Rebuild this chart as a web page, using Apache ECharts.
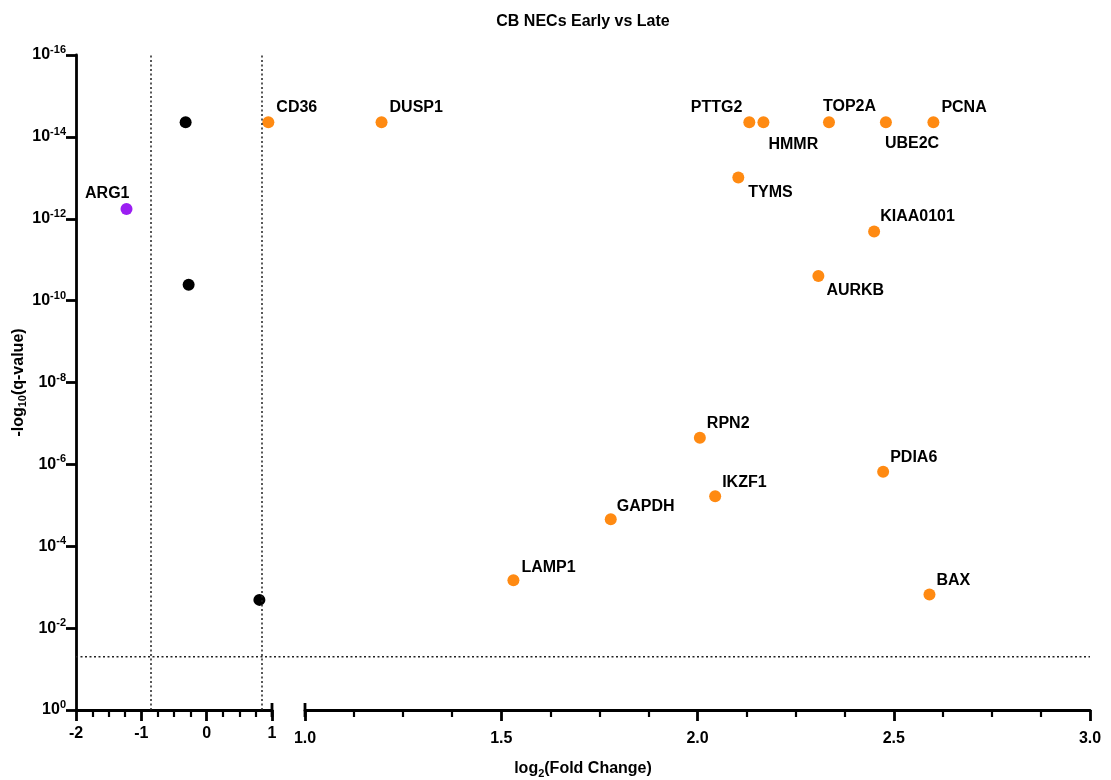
<!DOCTYPE html>
<html>
<head>
<meta charset="utf-8">
<script src="https://cdn.jsdelivr.net/npm/echarts@6/dist/echarts.min.js"></script>
<style>
html,body{margin:0;padding:0;background:#fff;}
#chart{width:1111px;height:780px;}
</style>
</head>
<body>
<div id="chart"></div>
<script>
// ---- data ----
const genes     = ['ARG1','CD36','DUSP1','PTTG2','HMMR','TOP2A','UBE2C','PCNA','TYMS','KIAA0101','AURKB','RPN2','PDIA6','IKZF1','GAPDH','LAMP1','BAX'];
const geneFC    = [-1.227, 0.944, 1.195, 2.132, 2.168, 2.335, 2.480, 2.601, 2.104, 2.450, 2.308, 2.006, 2.473, 2.045, 1.779, 1.531, 2.591];
const geneNegLogQ = [12.24, 14.36, 14.36, 14.36, 14.36, 14.36, 14.36, 14.36, 13.01, 11.69, 10.60, 6.65, 5.82, 5.22, 4.66, 3.17, 2.82];
const geneGroup = ['down','up','up','up','up','up','up','up','up','up','up','up','up','up','up','up','up'];
const otherFC      = [-0.322, -0.276, 0.807];
const otherNegLogQ = [14.36, 10.39, 2.69];
const fcCutoffs = [-0.848, 0.848];
const qCutoffNegLog = 1.301;
const leftTicks  = [-2, -1, 0, 1];
const rightTicks = [1.0, 1.5, 2.0, 2.5, 3.0];
const yTicks = [0, 2, 4, 6, 8, 10, 12, 14, 16];

// ---- styles ----
const FONT = '"Liberation Sans", Arial, Helvetica, sans-serif';
const colors = {up: '#FF8A12', down: '#9B1EF2', none: '#000000'};
const labelPlacement = {
  ARG1: ['left', 9, -15], CD36: ['right', 2, -15], DUSP1: ['right', 2, -15],
  PTTG2: ['left', -1, -15], HMMR: ['right', -1, 22], TOP2A: ['right', -12, -16],
  UBE2C: ['right', -7, 21], PCNA: ['right', 2, -15], TYMS: ['right', 4, 15],
  KIAA0101: ['right', 0, -15], AURKB: ['right', 2, 15], RPN2: ['right', 1, -14],
  PDIA6: ['right', 1, -14], IKZF1: ['right', 1, -14], GAPDH: ['right', 0, -13],
  LAMP1: ['right', 2, -13], BAX: ['right', 1, -14]
};
const splitAt = leftTicks[leftTicks.length - 1];

const baseLabel = {
  formatter: p => p.name, fontFamily: FONT, fontSize: 16, fontWeight: 'bold', color: '#000'
};
function geneItem(i) {
  const p = labelPlacement[genes[i]];
  return {
    name: genes[i],
    value: [geneFC[i], geneNegLogQ[i]],
    itemStyle: {color: colors[geneGroup[i]], opacity: 1},
    label: Object.assign({show: true, position: p[0], distance: 0, offset: [p[1], p[2]]}, baseLabel)
  };
}
const leftData = [], rightData = [];
genes.forEach((g, i) => (geneFC[i] <= splitAt ? leftData : rightData).push(geneItem(i)));
otherFC.forEach((fc, i) => leftData.push({value: [fc, otherNegLogQ[i]], itemStyle: {color: colors.none, opacity: 1}, label: {show: false}}));

const dotted = {color: '#222', width: 1.5, type: [2, 2.5]};
const axisLineStyle = {color: '#000', width: 2.8};
const tickLabelStyle = {fontFamily: FONT, fontSize: 16, fontWeight: 'bold', color: '#000'};

const yAxisLabel = {
  margin: 10,
  formatter: v => '{b|10}{s|' + (v === 0 ? '0' : '-' + v) + '}',
  rich: {
    b: {fontFamily: FONT, fontSize: 16, fontWeight: 'bold', color: '#000'},
    s: {fontFamily: FONT, fontSize: 11, fontWeight: 'bold', color: '#000', padding: [0, 0, 10, 0]}
  }
};
const subRich = {
  n: {fontFamily: FONT, fontSize: 16, fontWeight: 'bold', color: '#000'},
  sub: {fontFamily: FONT, fontSize: 11, fontWeight: 'bold', color: '#000', padding: [9, 0, 0, 0]}
};

const chart = echarts.init(document.getElementById('chart'), null, {renderer: 'canvas'});
chart.setOption({
  animation: false,
  backgroundColor: '#fff',
  title: [
    {text: 'CB NECs Early vs Late', left: 578, top: 9, textAlign: 'center',
     textStyle: {fontFamily: FONT, fontSize: 16, fontWeight: 'bold', color: '#000'}},
    {text: '{n|log}{sub|2}{n|(Fold Change)}', left: 578, top: 754, textAlign: 'center',
     textStyle: {rich: subRich}}
  ],
  grid: [
    {left: 76, top: 55, width: 196, height: 655},
    {left: 305, top: 55, width: 785, height: 655},
    {left: 76, top: 55, width: 1014, height: 655}
  ],
  xAxis: [
    {gridIndex: 0, type: 'value', min: leftTicks[0], max: leftTicks[leftTicks.length - 1], interval: 1,
     axisLine: {onZero: false, lineStyle: axisLineStyle},
     axisTick: {length: 11, lineStyle: {color: '#000', width: 2.8}},
     minorTick: {show: true, splitNumber: 4, length: 7, lineStyle: {color: '#000', width: 2.2}},
     splitLine: {show: false}, minorSplitLine: {show: false},
     axisLabel: Object.assign({margin: 16}, tickLabelStyle)},
    {gridIndex: 1, type: 'value', min: rightTicks[0], max: rightTicks[rightTicks.length - 1], interval: 0.5,
     axisLine: {onZero: false, lineStyle: axisLineStyle},
     axisTick: {length: 11, lineStyle: {color: '#000', width: 2.8}},
     minorTick: {show: true, splitNumber: 4, length: 7, lineStyle: {color: '#000', width: 2.2}},
     splitLine: {show: false}, minorSplitLine: {show: false},
     axisLabel: Object.assign({margin: 21, formatter: v => v.toFixed(1)}, tickLabelStyle)},
    {gridIndex: 2, type: 'value', min: 0, max: 1, show: false}
  ],
  yAxis: [
    {gridIndex: 0, type: 'value', min: yTicks[0], max: yTicks[yTicks.length - 1], interval: 2,
     axisLine: {show: true, onZero: false, lineStyle: axisLineStyle},
     axisTick: {show: true, length: 10, lineStyle: {color: '#000', width: 2.8}},
     splitLine: {show: false},
     axisLabel: yAxisLabel,
     name: '{n|-log}{sub|10}{n|(q-value)}', nameLocation: 'middle', nameRotate: 90, nameGap: 47,
     nameTextStyle: {rich: subRich}},
    {gridIndex: 1, type: 'value', min: 0, max: 16, show: false},
    {gridIndex: 2, type: 'value', min: 0, max: 16, show: false}
  ],
  series: [
    {type: 'line', xAxisIndex: 2, yAxisIndex: 2, data: [[0, qCutoffNegLog], [1, qCutoffNegLog]],
     symbol: 'none', lineStyle: dotted, silent: true, z: 1},
    {type: 'scatter', xAxisIndex: 0, yAxisIndex: 0, symbolSize: 12, data: leftData, z: 3,
     label: baseLabel,
     markLine: {silent: true, symbol: 'none', label: {show: false}, lineStyle: dotted,
                data: fcCutoffs.map(v => ({xAxis: v}))}},
    {type: 'scatter', xAxisIndex: 1, yAxisIndex: 1, symbolSize: 12, data: rightData, z: 3,
     label: baseLabel},
    {type: 'scatter', xAxisIndex: 0, yAxisIndex: 0, symbol: 'rect', symbolSize: [2.8, 14], clip: false,
     itemStyle: {color: '#000', opacity: 1}, silent: true, z: 4, data: [[leftTicks[leftTicks.length - 1], 0]]},
    {type: 'scatter', xAxisIndex: 1, yAxisIndex: 1, symbol: 'rect', symbolSize: [2.8, 14], clip: false,
     itemStyle: {color: '#000', opacity: 1}, silent: true, z: 4, data: [[rightTicks[0], 0]]}
  ]
});
</script>
</body>
</html>
